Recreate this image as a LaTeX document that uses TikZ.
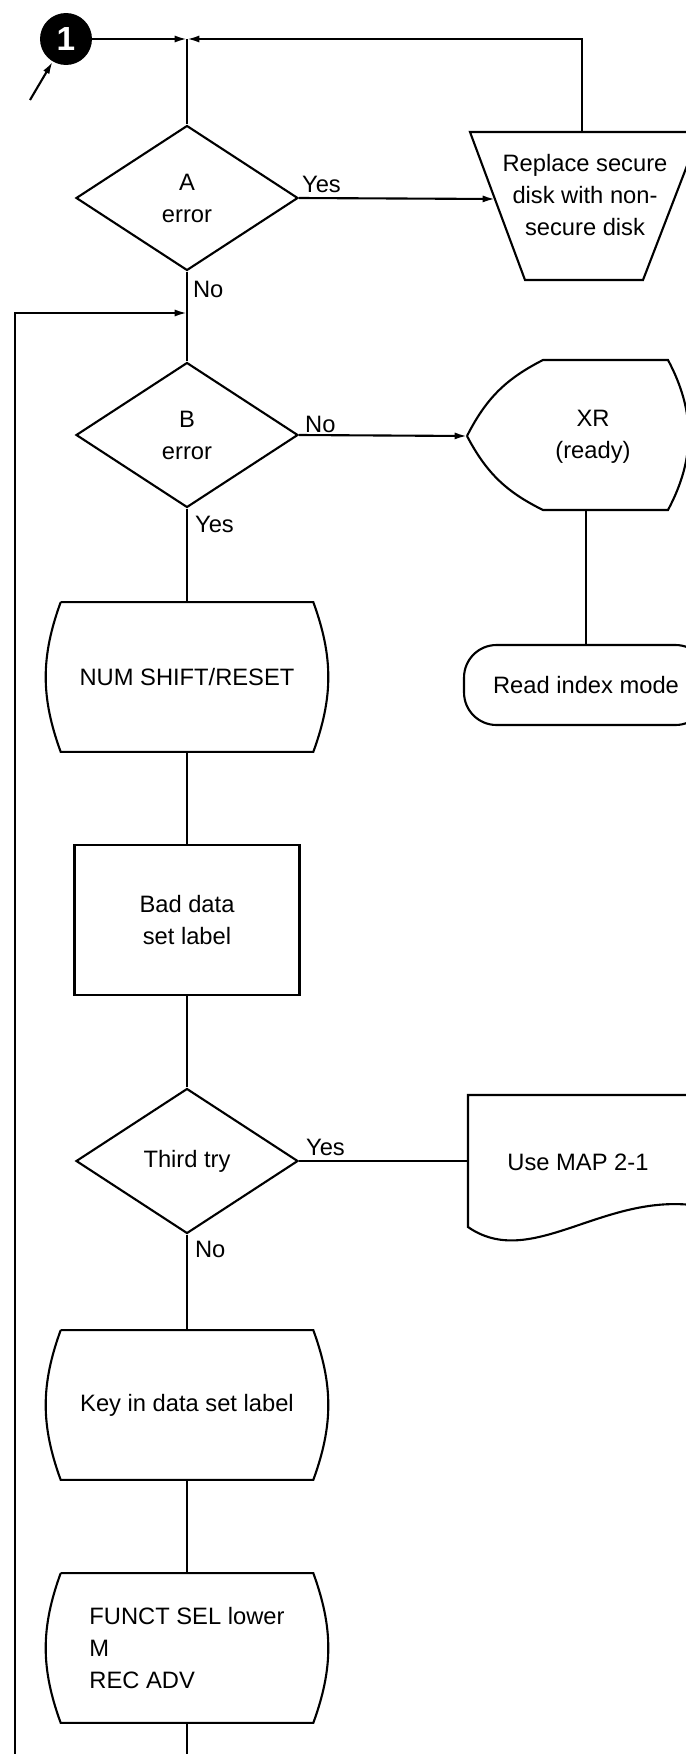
\documentclass[tikz,border=0pt]{standalone}
\usepackage{fontspec}
\setmainfont{Liberation Sans}
\usetikzlibrary{shapes.geometric,arrows.meta,positioning}
\newcommand{\myFont}{\fontsize{13.5pt}{18.2pt}\selectfont}
\tikzset{
myDecision/.style={
	diamond, draw, line width=1.2pt, aspect=1.5,
	minimum width=4.44cm, minimum height=2.9cm,
	inner sep=0pt, align=center, font=\myFont
}
, myProcess/.style={
	rectangle, draw, line width=1.2pt,
	minimum width=4.5cm, minimum height=3cm,
	inner sep=0pt, align=center, font=\myFont
}
, myManual/.style={
	rectangle, minimum width=5.04cm, minimum height=2.98cm,
	inner sep=0pt, align=center, font=\myFont
}
, myTerminal/.style={
	rectangle, draw, line width=1.2pt, rounded corners=0.65cm,
	minimum width=4.88cm, minimum height=1.6cm,
	inner sep=0pt, font=\myFont
}
, myText/.style={inner sep=0pt, align=center, font=\myFont}
, myLabel/.style={inner sep=1pt, font=\myFont}
, myConnector/.style={
	circle, fill=black, text=white, minimum size=1.04cm, inner sep=0pt,
	font=\bfseries\fontsize{19pt}{19pt}\selectfont
}
% links
, myLine/.style={line width=1.2pt}
, myFlow/.style={-{Latex[length=7pt,width=4pt]}, line width=1.2pt}
}

\begin{document}
\begin{tikzpicture}[x=0.02cm, y=-0.02cm]
	\useasboundingbox (0,0) rectangle (686,1754);
	% nodes
	\node[myConnector] (One) at (66,39) {1};
	\node[myDecision] (ErrA) at (187,198) {A\\error};
	\node[myText] (Replace) at (585,195) {Replace secure\\disk with non-\\secure disk};
	\node[myDecision] (ErrB) at (187,435) {B\\error};
	\node[myText] (Xr) at (593,437) {XR\\(ready)};
	\node[myTerminal] (ReadIdx) at (586,685) {Read index mode};
	\node[myManual] (NumShift) at (187,677) {NUM SHIFT/RESET};
	\node[myProcess] (BadLabel) at (187,920) {Bad data\\set label};
	\node[myDecision] (ThirdTry) at (187,1161) {Third try};
	\node[myText] (UseMap) at (578,1162) {Use MAP 2-1};
	\node[myManual] (KeyIn) at (187,1405) {Key in data set label};
	\node[myManual, align=left] (FunctSel) at (187,1648) {FUNCT SEL lower\\M\\REC ADV};
	% labels
	\node[myLabel, above right=0.06cm and 0.02cm of ErrA.east] (YesA) {Yes};
	\node[myLabel, below right=0.16cm and 0.08cm of ErrA.south] (NoA) {No};
	\node[myLabel, above right=0cm and 0.08cm of ErrB.east] (NoB) {No};
	\node[myLabel, below right=0.12cm and 0.12cm of ErrB.south] (YesB) {Yes};
	\node[myLabel, above right=0.06cm and 0.1cm of ThirdTry.east] (YesThird) {Yes};
	\node[myLabel, below right=0.1cm and 0.12cm of ThirdTry.south] (NoThird) {No};
	% outlines
	\foreach \n in {NumShift,KeyIn,FunctSel}
		\draw[myLine] (\n.north west) -- (\n.north east) to[bend left=20] (\n.south east)
			-- (\n.south west) to[bend left=20] (\n.north west);
	\draw[myLine] (470,132) -- (700,132) -- (643,280) -- (525,280) -- cycle;
	\draw[myLine] (467,436) to[bend left=18] (543,360) -- (668,360) to[bend left=28] (668,510)
		-- (543,510) to[bend left=18] (467,436);
	\draw[myLine] (468,1095) -- (692,1095) -- (692,1205)
		.. controls (600,1195) and (530,1270) .. (468,1227) -- cycle;
	% joints
	\coordinate (Entry) at (30,100);
	\coordinate (JoinA) at (187,39);
	\coordinate (JoinB) at (187,313);
	\coordinate (RepTop) at (582,132);
	\coordinate (RepLeft) at (495,199);
	\coordinate (XrLeft) at (467,436);
	\coordinate (XrBottom) at (586,510);
	\coordinate (MapLeft) at (468,1161);
	\coordinate (LoopIn) at (15,1754);
	\coordinate (Exit) at (187,1754);
	% links
	\draw[myFlow] (Entry) -- (One);
	\draw[myFlow] (One) -- (JoinA);
	\draw[myFlow] (RepTop) |- (JoinA);
	\draw[myLine] (JoinA) -- (ErrA.north);
	\draw[myFlow] (ErrA.east) -- (RepLeft);
	\draw[myLine] (ErrA.south) -- (ErrB.north);
	\draw[myFlow] (LoopIn) |- (JoinB);
	\draw[myFlow] (ErrB.east) -- (XrLeft);
	\draw[myLine] (XrBottom) -- (ReadIdx.north);
	\draw[myLine] (ErrB.south) -- (NumShift.north);
	\draw[myLine] (NumShift.south) -- (BadLabel.north);
	\draw[myLine] (BadLabel.south) -- (ThirdTry.north);
	\draw[myLine] (ThirdTry.east) -- (MapLeft);
	\draw[myLine] (ThirdTry.south) -- (KeyIn.north);
	\draw[myLine] (KeyIn.south) -- (FunctSel.north);
	\draw[myLine] (FunctSel.south) -- (Exit);
\end{tikzpicture}
\end{document}
